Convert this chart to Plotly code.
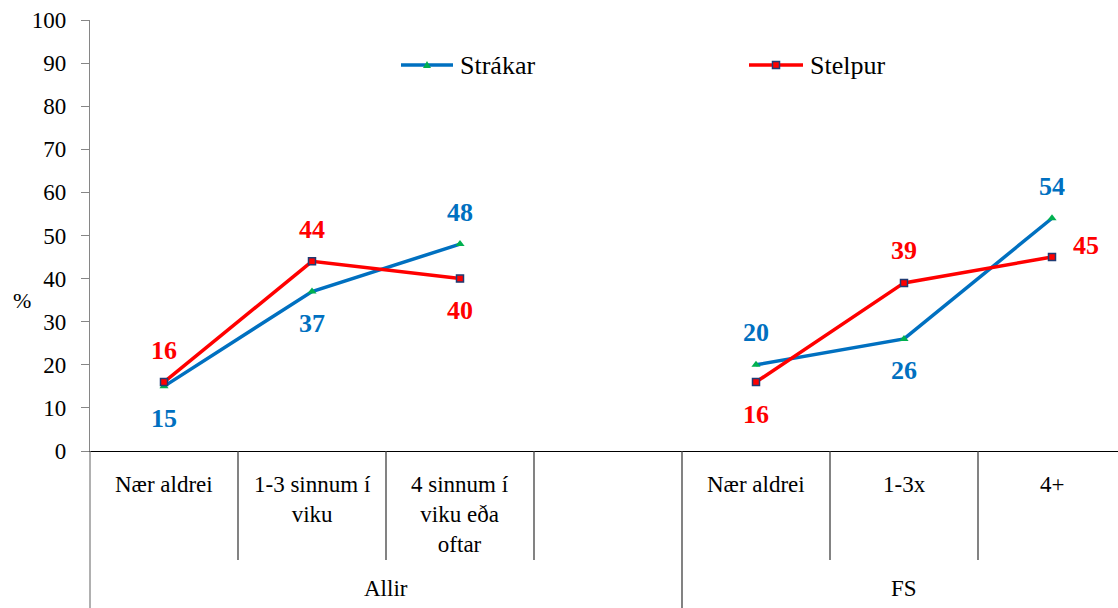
import plotly.graph_objects as go

# Category axis: two groups, the fourth slot in "Allir" is an empty spacer
groups = ["Allir", "FS"]
group_spans = [(0, 3), (4, 6)]
categories = ["Nær aldrei", "1-3 sinnum í<br>viku", "4 sinnum í<br>viku eða<br>oftar", "",
              "Nær aldrei", "1-3x", "4+"]

# Series values (percent); None leaves a gap between the groups
strakar = [15, 37, 48, None, 20, 26, 54]
stelpur = [16, 44, 40, None, 16, 39, 45]

# Where each value label sits relative to its point
strakar_pos = ["below", "below", "above", None, "above", "below", "above"]
stelpur_pos = ["above", "above", "below", None, "below", "above", "right"]

BLUE = "#0070C0"
RED = "#FF0000"
GREEN = "#00B050"
NAVY = "#1F3B73"
FONT = "Liberation Serif"

W, H = 1118, 608
L, R, T, B = 90, 0, 20, 157
PW, PH = W - L - R, H - T - B
CAT_W = 148  # pixel width of one category slot
x_max = -0.5 + PW / CAT_W

x = list(range(len(categories)))


def px_x(p):
    return (p - L) / PW


def px_y(p):
    return (H - B - p) / PH


fig = go.Figure()
fig.add_trace(go.Scatter(
    x=x, y=strakar, mode="lines+markers", name="Strákar",
    line=dict(color=BLUE, width=3.5),
    marker=dict(symbol="triangle-up", size=8, color=GREEN, line=dict(width=0)),
    connectgaps=False, showlegend=False, cliponaxis=False,
))
fig.add_trace(go.Scatter(
    x=x, y=stelpur, mode="lines+markers", name="Stelpur",
    line=dict(color=RED, width=3.5),
    marker=dict(symbol="square", size=7, color=RED, line=dict(color=NAVY, width=1.5)),
    connectgaps=False, showlegend=False, cliponaxis=False,
))

shift = 32
for vals, poss, col in [(strakar, strakar_pos, BLUE), (stelpur, stelpur_pos, RED)]:
    for i, (v, p) in enumerate(zip(vals, poss)):
        if v is None:
            continue
        xs, ys = 0, 0
        if p == "above":
            ys = shift
        elif p == "below":
            ys = -shift
        elif p == "right":
            xs, ys = 34, 12
        fig.add_annotation(
            x=i, y=v, xref="x", yref="y", text=f"<b>{v}</b>", showarrow=False,
            xshift=xs, yshift=ys, font=dict(family=FONT, size=26, color=col),
        )

# First-level category labels
for i, c in enumerate(categories):
    if not c:
        continue
    fig.add_annotation(
        x=i, y=px_y(470), xref="x", yref="paper", text=c, showarrow=False,
        yanchor="top", xanchor="center", align="center",
        font=dict(family=FONT, size=23, color="#000000"),
    )

# Group labels
for g, (a, b) in zip(groups, group_spans):
    right = min(b + 0.5, -0.5 + (W - L + 8) / CAT_W)
    fig.add_annotation(
        x=(a - 0.5 + right) / 2, y=px_y(588), xref="x", yref="paper", text=g,
        showarrow=False, yanchor="middle", xanchor="center",
        font=dict(family=FONT, size=23, color="#000000"),
    )

# Axis title
fig.add_annotation(
    x=px_x(22), y=px_y(300), xref="paper", yref="paper", text="%", showarrow=False,
    xanchor="center", yanchor="middle",
    font=dict(family=FONT, size=22, color="#000000"),
)

SEP = "#404040"
# Separators between categories
for b in [0.5, 1.5, 2.5, 4.5, 5.5]:
    fig.add_shape(type="line", xref="x", yref="paper", x0=b, x1=b,
                  y0=0, y1=px_y(560), line=dict(color=SEP, width=1.3))
# Separators between groups (full height)
fig.add_shape(type="line", xref="x", yref="paper", x0=3.5, x1=3.5,
              y0=0, y1=px_y(H), line=dict(color=SEP, width=1.3))
fig.add_shape(type="line", xref="paper", yref="paper", x0=0, x1=0,
              y0=0, y1=px_y(H), line=dict(color="#868686", width=1.3))

# Legend: line samples with markers and labels
legend_items = [("Strákar", BLUE, 401, 453), ("Stelpur", RED, 749, 803)]
LEG_Y = 65
for name, col, a, b in legend_items:
    fig.add_shape(type="line", xref="paper", yref="paper",
                  x0=px_x(a), x1=px_x(b), y0=px_y(LEG_Y), y1=px_y(LEG_Y),
                  line=dict(color=col, width=3.5))
    m = (a + b) / 2
    if name == "Strákar":
        path = (f"M{px_x(m - 4)},{px_y(LEG_Y + 3)} L{px_x(m + 4)},{px_y(LEG_Y + 3)} "
                f"L{px_x(m)},{px_y(LEG_Y - 4)} Z")
        fig.add_shape(type="path", xref="paper", yref="paper", path=path,
                      fillcolor=GREEN, line=dict(width=0))
    else:
        fig.add_shape(type="rect", xref="paper", yref="paper",
                      x0=px_x(m - 3.5), x1=px_x(m + 3.5),
                      y0=px_y(LEG_Y + 3.5), y1=px_y(LEG_Y - 3.5),
                      fillcolor=RED, line=dict(color=NAVY, width=1.5))
    fig.add_annotation(x=px_x(b + 5), y=px_y(LEG_Y), xref="paper", yref="paper",
                       text=name, showarrow=False, xanchor="left", yanchor="middle",
                       font=dict(family=FONT, size=26, color="#000000"))

fig.update_layout(
    width=W, height=H, autosize=False,
    margin=dict(l=L, r=R, t=T, b=B, pad=0),
    paper_bgcolor="white", plot_bgcolor="white",
    showlegend=False,
    font=dict(family=FONT, size=23, color="#000000"),
    xaxis=dict(range=[-0.5, x_max], showticklabels=False, showgrid=False,
               zeroline=False, showline=True, linecolor="#000000", linewidth=1.3,
               ticks="", fixedrange=True),
    yaxis=dict(range=[0, 100], dtick=10, tick0=0, showgrid=False, zeroline=False,
               showline=True, linecolor="#868686", linewidth=1.3,
               ticks="outside", ticklen=8, tickcolor="#868686", tickwidth=1.3,
               ticklabelstandoff=10,
               tickfont=dict(family=FONT, size=23, color="#000000"),
               fixedrange=True),
)

fig.write_html("out.html")
